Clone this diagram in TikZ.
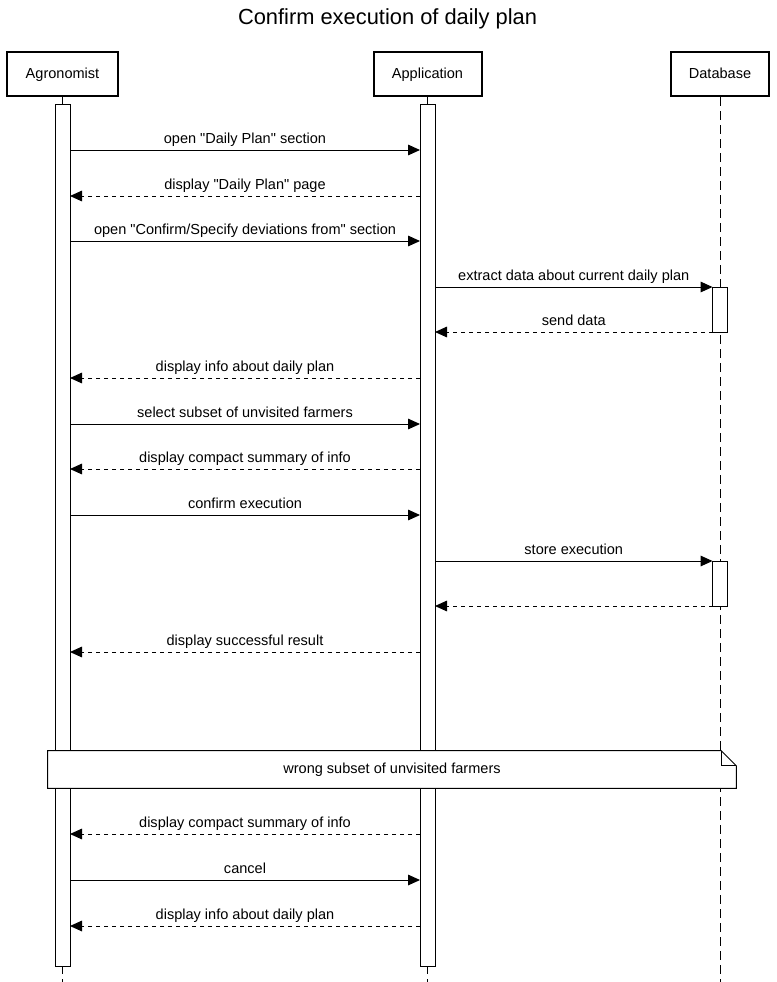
\documentclass[tikz,border=0pt]{standalone}
\usepackage{fontspec}
\setmainfont{Liberation Sans}[Ligatures=TeXOff]
\usetikzlibrary{calc,positioning,arrows.meta}
\newcommand{\msgfont}{\fontsize{10.9pt}{13pt}\selectfont}
\newcommand{\titlefont}{\fontsize{16.4pt}{19pt}\selectfont}
\newcommand{\agrox}{62.5}
\newcommand{\appx}{427.5}
\newcommand{\dbx}{720}
\newcommand{\headlevel}{74}
\newcommand{\barlevel}{535}
\newcommand{\barheight}{646.5pt}
\newcommand{\dbactheight}{33.75pt}
\newcommand{\foldsize}{11.25pt}

\begin{document}
\begin{tikzpicture}[x=0.75pt,y=-0.75pt]

%% styles
\tikzstyle{head}=[draw,line width=1.5pt,minimum height=33pt,inner sep=0pt,fill=white,font=\msgfont,text height=.85em,text depth=.15em]
\tikzstyle{activation}=[draw,fill=white,line width=0.75pt,minimum width=11.25pt,inner sep=0pt,outer sep=0pt]
\tikzstyle{lifeline}=[line width=0.75pt,dash pattern=on 6.75pt off 3.75pt]
\tikzstyle{call}=[line width=0.75pt,-{Triangle[length=9pt,width=8pt]}]
\tikzstyle{reply}=[call,dash pattern=on 3pt off 3pt]
\tikzstyle{msg}=[font=\msgfont,midway,above=2pt,inner sep=0pt,text depth=.25em]

\useasboundingbox (0,0) rectangle (777,982);

%% title
\node (title) at (387.5,18.5) {\titlefont Confirm execution of daily plan};

%% three heads
\node (agro) [head, minimum width=83.25pt] at (\agrox,\headlevel) {Agronomist};
\node (app)  [head, minimum width=81pt] at (\appx,\headlevel) {Application};
\node (db)   [head, minimum width=74pt] at (\dbx,\headlevel) {Database};

%% lifelines down to the bottom
\coordinate (bottom) at (0,982);
\draw[lifeline] (agro.south) -- (agro.south |- bottom);
\draw[lifeline] (app.south) -- (app.south |- bottom);
\draw[lifeline] (db.south) -- (db.south |- bottom);

%% activation bars
\node (agrobar) [activation, minimum height=\barheight] at (\agrox,\barlevel) {};
\node (appbar)  [activation, minimum height=\barheight] at (\appx,\barlevel) {};
\node (dbact1)  [activation, minimum height=\dbactheight] at (\dbx,309.5) {};
\node (dbact2)  [activation, minimum height=\dbactheight] at (\dbx,583.5) {};

%% message levels
\coordinate (m1) at (0,150);
\coordinate (m2) at (0,196);
\coordinate (m3) at (0,241);
\coordinate (m6) at (0,378);
\coordinate (m7) at (0,424);
\coordinate (m8) at (0,469);
\coordinate (m9) at (0,515);
\coordinate (m12) at (0,652);
\coordinate (m13) at (0,834);
\coordinate (m14) at (0,880);
\coordinate (m15) at (0,926);

%% messages before the note
\draw[call] (agrobar.east |- m1) -- (appbar.west |- m1) node[msg] {open "Daily Plan" section};
\draw[reply] (appbar.west |- m2) -- (agrobar.east |- m2) node[msg] {display "Daily Plan" page};
\draw[call] (agrobar.east |- m3) -- (appbar.west |- m3) node[msg] {open "Confirm/Specify deviations from" section};
\draw[call] (appbar.east |- dbact1.north) -- (dbact1.north west) node[msg] {extract data about current daily plan};
\draw[reply] (dbact1.south west) -- (appbar.east |- dbact1.south) node[msg] {send data};
\draw[reply] (appbar.west |- m6) -- (agrobar.east |- m6) node[msg] {display info about daily plan};
\draw[call] (agrobar.east |- m7) -- (appbar.west |- m7) node[msg] {select subset of unvisited farmers};
\draw[reply] (appbar.west |- m8) -- (agrobar.east |- m8) node[msg] {display compact summary of info};
\draw[call] (agrobar.east |- m9) -- (appbar.west |- m9) node[msg] {confirm execution};
\draw[call] (appbar.east |- dbact2.north) -- (dbact2.north west) node[msg] {store execution};
\draw[reply] (dbact2.south west) -- (appbar.east |- dbact2.south);
\draw[reply] (appbar.west |- m12) -- (agrobar.east |- m12) node[msg] {display successful result};

%% note across the lifelines (fill, then outline with folded corner)
\node (note) [fill=white, minimum width=516pt, minimum height=27.75pt, inner sep=0pt, font=\msgfont] at (392,769.5) {wrong subset of unvisited farmers};
\draw[line width=0.75pt] (note.south west) -- (note.north west) -- ([xshift=-\foldsize]note.north east) -- ([yshift=-\foldsize]note.north east) -- (note.south east) -- cycle;
\draw[line width=0.75pt] ([xshift=-\foldsize]note.north east) -- ([xshift=-\foldsize,yshift=-\foldsize]note.north east) -- ([yshift=-\foldsize]note.north east);

%% messages after the note
\draw[reply] (appbar.west |- m13) -- (agrobar.east |- m13) node[msg] {display compact summary of info};
\draw[call] (agrobar.east |- m14) -- (appbar.west |- m14) node[msg] {cancel};
\draw[reply] (appbar.west |- m15) -- (agrobar.east |- m15) node[msg] {display info about daily plan};

\end{tikzpicture}
\end{document}
